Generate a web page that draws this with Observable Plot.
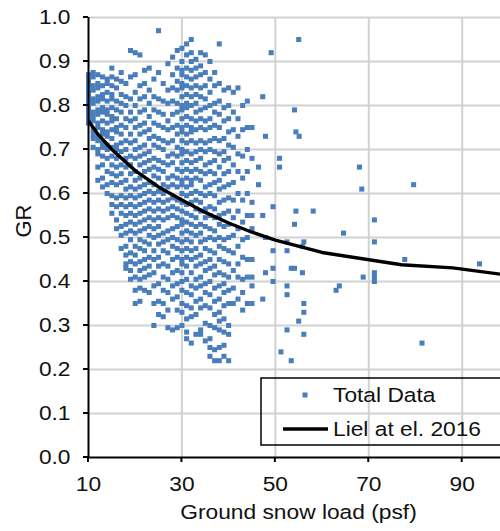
<!DOCTYPE html>
<html>
<head>
<meta charset="utf-8">
<script src="https://cdn.jsdelivr.net/npm/d3@7"></script>
<script src="https://cdn.jsdelivr.net/npm/@observablehq/plot@0.6"></script>
<style>
  html, body { margin: 0; padding: 0; background: #fff; overflow: hidden; }
  #chart svg { display: block; }
</style>
</head>
<body>
<div id="chart"></div>
<script>
// Ground snow load (psf) columns and the GR values observed at each load
const loads = [
  10, 11, 12, 13, 14, 15, 16, 17, 18, 19,
  20, 21, 22, 23, 24, 25, 26, 27, 28, 29,
  30, 31, 32, 33, 34, 35, 36, 37, 38, 39,
  40, 41, 42, 43, 44, 45,
  46.4, 47.3, 47.9, 49.1, 49.5, 50.9, 51.2, 52.5, 53.4, 54.1,
  54.4, 55.0, 55.1, 55.8, 56.1, 58.1, 63.0, 63.7, 64.6, 68.0,
  68.5, 68.8, 71.2, 77.7, 79.6, 81.4, 93.7
];
const grByLoad = [
  [0.87,0.86,0.85,0.84,0.83,0.82,0.81,0.80,0.79,0.78,0.77,0.76],
  [0.875,0.865,0.845,0.835,0.815,0.805,0.785,0.775,0.765,0.745,0.735,0.725,0.705],
  [0.87,0.85,0.84,0.82,0.81,0.79,0.78,0.76,0.75,0.73,0.72,0.70,0.69,0.66,0.63],
  [0.865,0.845,0.825,0.815,0.795,0.785,0.765,0.745,0.735,0.715,0.705,0.685,0.665,0.635,0.615],
  [0.86,0.85,0.83,0.81,0.79,0.78,0.76,0.74,0.73,0.71,0.70,0.68,0.65,0.62,0.60],
  [0.885,0.865,0.845,0.825,0.815,0.795,0.775,0.765,0.745,0.725,0.705,0.685,0.665,0.645,0.625,0.595,0.575,0.555],
  [0.86,0.84,0.81,0.79,0.77,0.75,0.74,0.71,0.70,0.68,0.66,0.64,0.62,0.59,0.57,0.54,0.52],
  [0.875,0.855,0.825,0.805,0.785,0.755,0.735,0.715,0.695,0.665,0.645,0.625,0.595,0.575,0.555,0.525,0.505,0.475],
  [0.85,0.82,0.80,0.77,0.75,0.72,0.70,0.68,0.66,0.63,0.61,0.59,0.57,0.55,0.53,0.51,0.48,0.46,0.44,0.43],
  [0.925,0.865,0.815,0.785,0.765,0.735,0.715,0.685,0.665,0.645,0.615,0.595,0.575,0.555,0.535,0.515,0.495,0.465,0.445,0.425,0.405],
  [0.92,0.87,0.83,0.80,0.77,0.75,0.72,0.70,0.68,0.65,0.63,0.61,0.59,0.57,0.55,0.53,0.51,0.48,0.46,0.44,0.41,0.38,0.35],
  [0.915,0.845,0.815,0.785,0.755,0.735,0.705,0.685,0.665,0.635,0.615,0.595,0.575,0.555,0.535,0.515,0.495,0.475,0.445,0.425,0.405,0.385,0.355],
  [0.88,0.85,0.82,0.79,0.76,0.74,0.71,0.69,0.67,0.65,0.62,0.60,0.58,0.56,0.54,0.52,0.49,0.47,0.45,0.43,0.41,0.38],
  [0.885,0.835,0.805,0.775,0.745,0.725,0.695,0.675,0.655,0.625,0.605,0.585,0.565,0.545,0.525,0.505,0.485,0.455,0.435,0.415,0.375],
  [0.86,0.82,0.79,0.76,0.73,0.71,0.68,0.66,0.64,0.62,0.60,0.58,0.56,0.54,0.52,0.50,0.47,0.45,0.42,0.39,0.35,0.30],
  [0.97,0.875,0.815,0.785,0.755,0.725,0.705,0.675,0.655,0.635,0.605,0.585,0.565,0.545,0.525,0.505,0.485,0.455,0.435,0.395,0.355,0.325],
  [0.85,0.81,0.78,0.75,0.72,0.70,0.67,0.65,0.62,0.60,0.58,0.56,0.54,0.51,0.49,0.47,0.44,0.41,0.38,0.35,0.32],
  [0.895,0.835,0.805,0.765,0.745,0.715,0.685,0.665,0.635,0.615,0.585,0.565,0.545,0.515,0.495,0.465,0.435,0.405,0.375,0.335,0.295],
  [0.91,0.87,0.84,0.81,0.78,0.75,0.72,0.69,0.67,0.64,0.62,0.59,0.57,0.55,0.52,0.50,0.48,0.45,0.42,0.39,0.36,0.29],
  [0.925,0.885,0.855,0.835,0.805,0.785,0.755,0.735,0.705,0.685,0.655,0.635,0.615,0.585,0.565,0.545,0.525,0.495,0.475,0.455,0.425,0.395,0.365,0.335,0.295],
  [0.93,0.90,0.88,0.87,0.85,0.84,0.82,0.80,0.79,0.77,0.75,0.74,0.72,0.70,0.69,0.67,0.65,0.63,0.62,0.60,0.58,0.56,0.54,0.53,0.51,0.49,0.47,0.45,0.44,0.42,0.40,0.38,0.35,0.33,0.30],
  [0.94,0.915,0.885,0.865,0.845,0.825,0.805,0.795,0.775,0.755,0.735,0.715,0.695,0.675,0.655,0.635,0.615,0.595,0.575,0.555,0.535,0.515,0.495,0.475,0.455,0.435,0.405,0.375,0.345,0.315,0.285,0.27],
  [0.95,0.92,0.90,0.88,0.86,0.84,0.82,0.80,0.77,0.75,0.74,0.72,0.69,0.67,0.65,0.63,0.62,0.60,0.58,0.55,0.53,0.51,0.49,0.47,0.45,0.42,0.39,0.37,0.34,0.32,0.26],
  [0.905,0.885,0.865,0.845,0.825,0.805,0.785,0.765,0.745,0.715,0.695,0.675,0.655,0.635,0.605,0.585,0.565,0.545,0.525,0.505,0.475,0.455,0.435,0.405,0.385,0.355,0.325,0.28],
  [0.92,0.89,0.87,0.84,0.82,0.79,0.77,0.75,0.72,0.70,0.68,0.65,0.63,0.60,0.58,0.56,0.53,0.51,0.49,0.46,0.44,0.41,0.39,0.36,0.34,0.29,0.28],
  [0.915,0.875,0.845,0.815,0.795,0.765,0.745,0.715,0.695,0.665,0.645,0.615,0.595,0.565,0.545,0.525,0.495,0.475,0.445,0.425,0.395,0.375,0.345,0.305,0.265],
  [0.90,0.86,0.83,0.80,0.77,0.75,0.72,0.70,0.67,0.65,0.62,0.60,0.57,0.55,0.52,0.50,0.47,0.45,0.43,0.40,0.37,0.34,0.30,0.27,0.25,0.23],
  [0.875,0.845,0.805,0.785,0.755,0.725,0.695,0.675,0.645,0.625,0.595,0.565,0.545,0.515,0.495,0.465,0.435,0.415,0.385,0.355,0.325,0.295,0.245,0.22],
  [0.94,0.85,0.81,0.78,0.75,0.72,0.69,0.66,0.63,0.61,0.58,0.55,0.53,0.50,0.48,0.45,0.42,0.39,0.36,0.33,0.31,0.29,0.25,0.22],
  [0.835,0.795,0.765,0.725,0.695,0.675,0.645,0.615,0.585,0.555,0.525,0.495,0.475,0.445,0.415,0.395,0.375,0.345,0.315,0.285,0.255,0.23],
  [0.84,0.80,0.77,0.74,0.71,0.68,0.65,0.62,0.59,0.56,0.53,0.50,0.47,0.44,0.41,0.38,0.35,0.30,0.28,0.22],
  [0.83,0.785,0.745,0.705,0.665,0.625,0.585,0.545,0.505,0.465,0.425,0.385,0.35],
  [0.84,0.77,0.73,0.69,0.65,0.60,0.56,0.52,0.48,0.44,0.41,0.36],
  [0.80,0.745,0.685,0.635,0.585,0.535,0.495,0.455,0.405,0.375,0.335],
  [0.81,0.75,0.70,0.65,0.60,0.55,0.50,0.45,0.41,0.35],
  [0.75,0.68,0.58,0.55,0.52,0.45,0.41,0.39,0.35],
  [0.66,0.62],
  [0.82,0.55,0.36],
  [0.73,0.50,0.42],
  [0.92],
  [0.57,0.47,0.43,0.40],
  [0.68,0.66],
  [0.24],
  [0.49,0.47,0.39,0.37,0.29],
  [0.43,0.22],
  [0.79,0.53,0.43],
  [0.74,0.56],
  [0.95,0.31],
  [0.73],
  [0.48,0.42],
  [0.49,0.35,0.33,0.28],
  [0.56],
  [0.38],
  [0.39],
  [0.51],
  [0.66],
  [0.61],
  [0.41],
  [0.54,0.49,0.42,0.41,0.40],
  [0.45],
  [0.62],
  [0.26],
  [0.44]
];

// Liel et al. (2016) ground-to-roof relation
const curveLoad = [10, 12, 15, 20, 25, 30, 35, 40, 45, 50, 60, 77, 88, 100];
const curveGR = [0.765, 0.735, 0.70, 0.652, 0.615, 0.585, 0.557, 0.533, 0.512, 0.494, 0.466, 0.438, 0.431, 0.414];

const xTicks = [10, 30, 50, 70, 90];
const yTicks = [0, 0.1, 0.2, 0.3, 0.4, 0.5, 0.6, 0.7, 0.8, 0.9, 1.0];
const seriesNames = ["Total Data", "Liel at el. 2016"];
const xTitle = "Ground snow load (psf)";
const yTitle = "GR";

const dotColor = "#4a7ebb";
const gridColor = "#d2d2d2";
const inkColor = "#111";
const font = "'Liberation Sans', Arial, sans-serif";
const fontSize = 20.5;
const tickLength = 5;

const points = loads.flatMap((x, i) => grByLoad[i].map(y => ({x, y})));
const curve = curveLoad.map((x, i) => ({x, y: curveGR[i]}));

const chart = Plot.plot({
  width: 500,
  height: 531,
  marginLeft: 88,
  marginRight: 0,
  marginTop: 17,
  marginBottom: 74,
  style: {fontFamily: font, fontSize: fontSize + "px", color: inkColor, background: "#fff"},
  x: {domain: [10, 98.2], ticks: xTicks, tickFormat: d => String(d), tickSize: 0, tickPadding: 19, label: null},
  y: {domain: [0, 1], ticks: yTicks, tickFormat: d3.format(".1f"), tickSize: 0, tickPadding: 18, label: null},
  marks: [
    Plot.ruleY(yTicks.filter(d => d > 0), {stroke: gridColor, strokeWidth: 2}),
    Plot.ruleX(xTicks.filter(d => d > 10), {stroke: gridColor, strokeWidth: 2}),
    Plot.dot(points, {x: "x", y: "y", symbol: "square", r: 2.85, fill: dotColor, stroke: "none"}),
    Plot.line(curve, {x: "x", y: "y", stroke: "#000", strokeWidth: 3.4, clip: true}),
    Plot.ruleX([10], {stroke: "#000", strokeWidth: 2}),
    Plot.ruleY([0], {stroke: "#000", strokeWidth: 2}),
    Plot.text([xTitle], {text: d => d, frameAnchor: "bottom", dx: 4, dy: 61, fill: inkColor}),
    Plot.text([yTitle], {text: d => d, frameAnchor: "left", rotate: -90, dx: -65, fill: inkColor, fontSize: 22})
  ]
});

document.getElementById("chart").appendChild(chart);

const svg = d3.select(chart);
const sx = chart.scale("x"), sy = chart.scale("y");
const x0 = sx.apply(10), y0 = sy.apply(0);

// Outward tick marks on both axes
const ticks = svg.append("g").attr("stroke", "#000").attr("stroke-width", 2);
yTicks.forEach(v => {
  const y = sy.apply(v);
  ticks.append("line").attr("x1", x0 - tickLength).attr("x2", x0).attr("y1", y).attr("y2", y);
});
xTicks.forEach(v => {
  const x = sx.apply(v);
  ticks.append("line").attr("x1", x).attr("x2", x).attr("y1", y0).attr("y2", y0 + tickLength);
});

// Legend drawn inside the plot frame, lower right
const lg = svg.append("g")
  .attr("font-family", font).attr("font-size", fontSize)
  .attr("fill", inkColor).attr("text-anchor", "start");
lg.append("rect").attr("x", 261).attr("y", 378).attr("width", 280).attr("height", 67)
  .attr("fill", "none").attr("stroke", "#000").attr("stroke-width", 1.5);
lg.append("rect").attr("x", 302.5).attr("y", 392.5).attr("width", 5).attr("height", 5).attr("fill", dotColor);
lg.append("text").attr("x", 333).attr("y", 395).attr("dy", "0.35em").text(seriesNames[0]);
lg.append("line").attr("x1", 283).attr("x2", 328).attr("y1", 429).attr("y2", 429)
  .attr("stroke", "#000").attr("stroke-width", 3.5);
lg.append("text").attr("x", 333).attr("y", 429).attr("dy", "0.35em").text(seriesNames[1]);

// Horizontal glyph proportions of the type
const stretch = 1.11;
chart.querySelectorAll("text").forEach(t => {
  if (t.textContent === yTitle) return;
  const w = t.getComputedTextLength();
  if (w > 0) {
    t.setAttribute("textLength", (w * stretch).toFixed(1));
    t.setAttribute("lengthAdjust", "spacingAndGlyphs");
  }
});
</script>
</body>
</html>
